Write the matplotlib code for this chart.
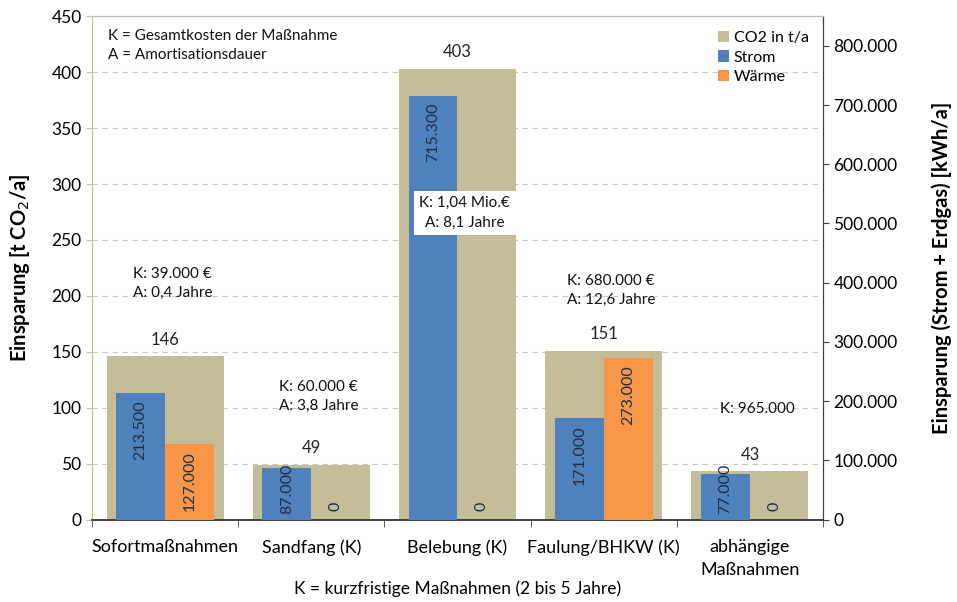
import matplotlib
matplotlib.use("Agg")
import matplotlib.pyplot as plt
from matplotlib.ticker import FuncFormatter
import numpy as np

plt.rcParams["font.family"] = ["Lato", "DejaVu Sans"]

categories = ["Sofortmaßnahmen", "Sandfang (K)", "Belebung (K)", "Faulung/BHKW (K)", "abhängige\nMaßnahmen"]
co2 = [146, 49, 403, 151, 43]
strom = [213500, 87000, 715300, 171000, 77000]
waerme = [127000, 0, 0, 273000, 0]
cost_notes = ["K: 39.000 €\nA: 0,4 Jahre", "K: 60.000 €\nA: 3,8 Jahre", "K: 1,04 Mio.€\nA: 8,1 Jahre",
              "K: 680.000 €\nA: 12,6 Jahre", "K: 965.000"]
note_y = [211, 110, 274, 205, 99]

c_co2 = "#C4BD97"
c_strom = "#4F81BD"
c_waerme = "#F79646"

def de_thousands(v, pos=None):
    return f"{int(v):,}".replace(",", ".")

fig = plt.figure(figsize=(9.57, 6.02), dpi=100)
ax = fig.add_axes([0.0961, 0.137, 0.7639, 0.836])
ax2 = ax.twinx()

x = np.arange(len(categories))
ax.bar(x, co2, width=0.8, color=c_co2, label="CO2 in t/a", zorder=2)
ax.set_ylim(0, 450)
ax.set_yticks(np.arange(0, 451, 50))
ax.set_xlim(-0.5, len(categories) - 0.5)
ax.yaxis.grid(True, linestyle=(0, (5, 4)), color="#C8C8C8", linewidth=0.8, zorder=0)
ax.set_axisbelow(True)

for xi, v in zip(x, co2):
    ax.annotate(str(v), (xi, v), xytext=(0, 6), textcoords="offset points",
                ha="center", va="bottom", fontsize=12, color="#222222")

bw = 0.335
ax2.bar(x - bw / 2, strom, width=bw, color=c_strom, label="Strom", zorder=3)
ax2.bar(x + bw / 2, waerme, width=bw, color=c_waerme, label="Wärme", zorder=3)
ax2.set_ylim(0, 850000)
ax2.set_yticks(np.arange(0, 800001, 100000))
ax2.yaxis.set_major_formatter(FuncFormatter(de_thousands))

# value labels inside the kWh bars
for xs, vals in ((x - bw / 2, strom), (x + bw / 2, waerme)):
    for xi, v in zip(xs, vals):
        if v == 0:
            ax2.annotate("0", (xi, 0), xytext=(0, 6), textcoords="offset points",
                         ha="center", va="bottom", rotation=90, fontsize=11.5, color="#1F2D4A")
        elif v < 100000:
            ax2.annotate(de_thousands(v), (xi, 0), xytext=(0, 4), textcoords="offset points",
                         ha="center", va="bottom", rotation=90, fontsize=11.5, color="#1F2D4A")
        else:
            ax2.annotate(de_thousands(v), (xi, v), xytext=(0, -5), textcoords="offset points",
                         ha="center", va="top", rotation=90, fontsize=11.5, color="#1F2D4A")

# cost / payback notes, drawn on the top axes so the white box covers the bars
for xi, txt, yv in zip(x, cost_notes, note_y):
    kw = dict(ha="center", va="center", fontsize=11, color="#111111", linespacing=1.5, zorder=5)
    if xi == 2:
        kw["bbox"] = dict(facecolor="white", edgecolor="none", pad=4)
    ax2.text(xi + 0.05, yv, txt, transform=ax.transData, **kw)

ax2.text(0.022, 0.975, "K = Gesamtkosten der Maßnahme\nA = Amortisationsdauer", transform=ax.transAxes,
         ha="left", va="top", fontsize=11, color="#111111", linespacing=1.5)

ax.set_xticks(x)
ax.set_xticklabels(categories, fontsize=13, linespacing=1.55)
ax.set_xticks(np.arange(-0.5, len(categories)), minor=True)
ax.tick_params(axis="x", which="major", length=0, pad=14)
ax.tick_params(axis="x", which="minor", length=5, color="#404040")
ax.tick_params(axis="y", labelsize=12.5, length=4, color="#BFBFBF")
ax2.tick_params(axis="y", labelsize=12.5, length=4, color="#404040")

ax.set_ylabel("Einsparung [t CO$_2$/a]", fontsize=14.5, fontweight="bold", labelpad=14)
ax2.set_ylabel("Einsparung (Strom + Erdgas) [kWh/a]", fontsize=14.5, fontweight="bold", labelpad=24)
ax.set_xlabel("K = kurzfristige Maßnahmen (2 bis 5 Jahre)", fontsize=12.5, labelpad=2)

for a in (ax, ax2):
    a.spines["top"].set_color("#BFBFBF")
    a.spines["left"].set_color(c_co2)
    a.spines["right"].set_color("#404040")
    a.spines["bottom"].set_color("#404040")
    a.spines["bottom"].set_linewidth(1.2)

h1, l1 = ax.get_legend_handles_labels()
h2, l2 = ax2.get_legend_handles_labels()
ax2.legend(h1 + h2, l1 + l2, loc="upper right", frameon=False, fontsize=11.5,
           handlelength=0.7, handleheight=0.7, handletextpad=0.3, labelspacing=0.35,
           bbox_to_anchor=(1.0, 1.0))

fig.savefig("out.png", dpi=100)
